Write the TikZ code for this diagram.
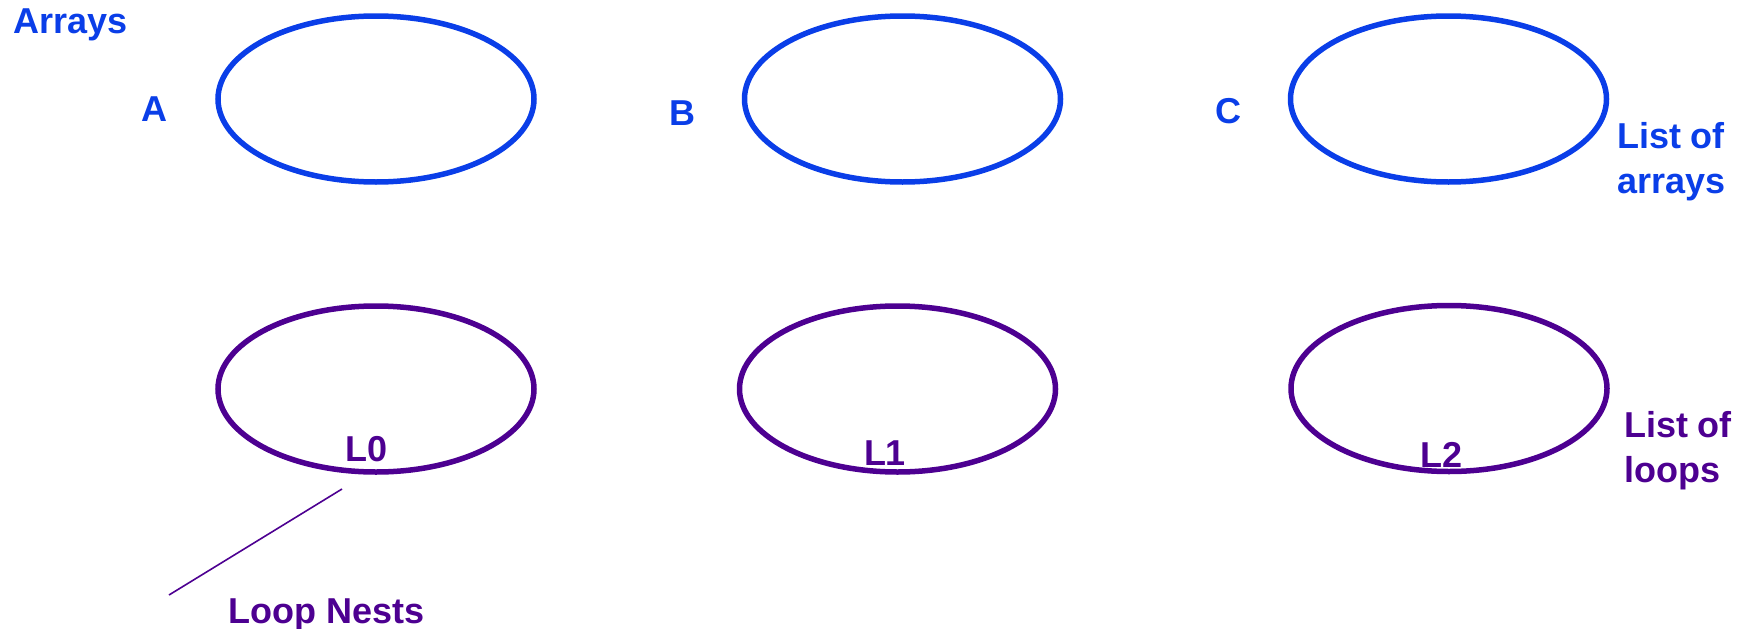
\documentclass[tikz,border=0pt]{standalone}
\usepackage{fontspec}
\setmainfont{Liberation Sans}
\usetikzlibrary{shapes.geometric}
\definecolor{arrblue}{RGB}{10,62,232}
\definecolor{looppurple}{RGB}{77,0,145}
\begin{document}
\begin{tikzpicture}[x=1pt,y=-1pt,
  lbl/.style={inner sep=0pt,outer sep=0pt,font=\fontsize{36}{45}\selectfont\bfseries},
  arrlbl/.style={lbl,text=arrblue},
  looplbl/.style={lbl,text=looppurple},
  oval/.style={ellipse,draw,line width=5.5pt,inner sep=0pt,minimum width=316pt,minimum height=166pt},
  arroval/.style={oval,draw=arrblue},
  loopoval/.style={oval,draw=looppurple},
  pointer/.style={draw=looppurple,line width=1.6pt}]
\useasboundingbox (0,0) rectangle (1754,629);
% arrays
\node[arroval] (ea) at (376,99) {};
\node[arroval] (eb) at (902.5,99) {};
\node[arroval] (ec) at (1448.5,99) {};
\node[arrlbl,anchor=base] (arrays) at (71,33) {Arrays};
\node[arrlbl,anchor=base] (la) at (154,121) {A};
\node[arrlbl,anchor=base] (lb) at (682,125) {B};
\node[arrlbl,anchor=base] (lc) at (1228,123) {C};
\node[arrlbl,anchor=base west,align=left] (listarr) at (1617,193) {List of\\arrays};
% loops
\node[loopoval] (l0) at (376,389) {};
\node[loopoval] (l1) at (897.5,389) {};
\node[loopoval] (l2) at (1449,388.5) {};
\node[looplbl,anchor=base] (t0) at (367,461) {L0};
\node[looplbl,anchor=base] (t1) at (885,465) {L1};
\node[looplbl,anchor=base] (t2) at (1441,467) {L2};
\node[looplbl,anchor=base west,align=left] (listloop) at (1624,482) {List of\\loops};
\node[looplbl,anchor=base] (nests) at (326.5,623) {Loop Nests};
\coordinate (p1) at (342,489);
\coordinate (p2) at (169,595);
\draw[pointer] (p1) -- (p2);
\end{tikzpicture}
\end{document}
